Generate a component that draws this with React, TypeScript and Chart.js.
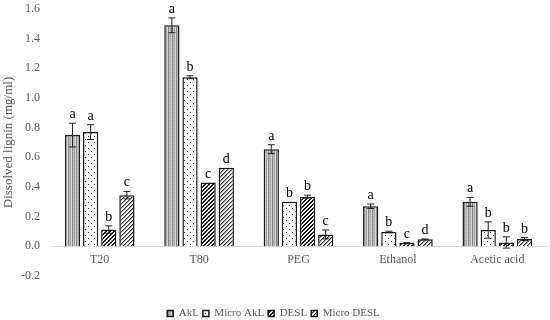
import React, { useEffect, useRef } from "react";
import { Chart, registerables } from "chart.js";

Chart.register(...registerables);

const categories = ["T20", "T80", "PEG", "Ethanol", "Acetic acid"];
const seriesNames = ["AkL", "Micro AkL", "DESL", "Micro DESL"];

const aklValues = [0.75, 1.49, 0.655, 0.27, 0.30];
const aklErrors = [0.08, 0.05, 0.03, 0.015, 0.03];
const aklLetters = ["a", "a", "a", "a", "a"];

const microAklValues = [0.77, 1.14, 0.30, 0.097, 0.11];
const microAklErrors = [0.05, 0.01, 0.0, 0.005, 0.055];
const microAklLetters = ["a", "b", "b", "b", "b"];

const deslValues = [0.113, 0.43, 0.335, 0.022, 0.026];
const deslErrors = [0.025, 0.0, 0.01, 0.003, 0.038];
const deslLetters = ["b", "c", "b", "c", "b"];

const microDeslValues = [0.345, 0.53, 0.08, 0.047, 0.049];
const microDeslErrors = [0.025, 0.0, 0.03, 0.003, 0.01];
const microDeslLetters = ["c", "d", "c", "d", "b"];

const yMin = -0.2;
const yMax = 1.6;
const yStep = 0.2;

const FONT = "'Liberation Serif', 'Times New Roman', serif";
const GRAY = "#595959";

function makePattern(kind: string): CanvasPattern | string {
  const c = document.createElement("canvas");
  const size = kind === "dots" ? 6 : 4;
  c.width = size;
  c.height = size;
  const ctx = c.getContext("2d")!;
  ctx.fillStyle = "#ffffff";
  ctx.fillRect(0, 0, size, size);
  for (let x = 0; x < size; x++) {
    for (let y = 0; y < size; y++) {
      let col: string | null = null;
      if (kind === "vstripes") {
        col = ["#858585", "#cfcfcf", "#a5a5a5", "#dadada"][x];
        if (x === 1 && y % 2 === 0) col = "#b0b0b0";
      } else if (kind === "dots") {
        if ((x === 1 && y === 1) || (x === 4 && y === 4)) col = "#333333";
      } else if (kind === "darkhatch") {
        const m = (x + y) % 4;
        if (m === 0 || m === 1) col = "#111111";
      } else if (kind === "lighthatch") {
        const m = (x + y) % 4;
        if (m === 0) col = "#333333";
        else if (m === 1) col = "#a0a0a0";
      }
      if (col) {
        ctx.fillStyle = col;
        ctx.fillRect(x, y, 1, 1);
      }
    }
  }
  return ctx.createPattern(c, "repeat") || "#999";
}

const errorsByDataset = [aklErrors, microAklErrors, deslErrors, microDeslErrors];
const lettersByDataset = [aklLetters, microAklLetters, deslLetters, microDeslLetters];

const errorBarPlugin = {
  id: "errorBars",
  afterDatasetsDraw(chart: any) {
    const ctx = chart.ctx;
    const yScale = chart.scales.y;
    ctx.save();
    chart.data.datasets.forEach((ds: any, di: number) => {
      const meta = chart.getDatasetMeta(di);
      const errs = errorsByDataset[di];
      const letters = lettersByDataset[di];
      meta.data.forEach((el: any, i: number) => {
        const v = ds.data[i];
        const e = errs[i];
        const x = el.x;
        const yTop = yScale.getPixelForValue(v + e);
        const yBot = yScale.getPixelForValue(v - e);
        if (e > 0) {
          ctx.strokeStyle = "#222222";
          ctx.lineWidth = 1;
          ctx.beginPath();
          ctx.moveTo(x, yTop);
          ctx.lineTo(x, yBot);
          ctx.moveTo(x - 3.5, yTop);
          ctx.lineTo(x + 3.5, yTop);
          ctx.moveTo(x - 3.5, yBot);
          ctx.lineTo(x + 3.5, yBot);
          ctx.stroke();
        }
        ctx.fillStyle = "#000000";
        ctx.font = `14px ${FONT}`;
        ctx.textAlign = "center";
        ctx.textBaseline = "alphabetic";
        ctx.fillText(letters[i], x, Math.min(yTop, el.y) - 5);
      });
    });
    ctx.restore();
  },
};

export default function App() {
  const ref = useRef<HTMLCanvasElement>(null);
  useEffect(() => {
    if (!ref.current) return;
    const fills = [
      makePattern("vstripes"),
      makePattern("dots"),
      makePattern("darkhatch"),
      makePattern("lighthatch"),
    ];
    const values = [aklValues, microAklValues, deslValues, microDeslValues];
    const chart = new Chart(ref.current, {
      type: "bar",
      data: {
        labels: categories,
        datasets: seriesNames.map((name, i) => ({
          label: name,
          data: values[i],
          backgroundColor: fills[i] as any,
          borderColor: "#1a1a1a",
          borderWidth: 1.5,
          categoryPercentage: 0.73,
          barPercentage: 0.84,
        })),
      },
      options: {
        animation: false,
        responsive: false,
        maintainAspectRatio: false,
        layout: { padding: { top: 9, left: 0, right: 3, bottom: -9 } },
        plugins: {
          tooltip: { enabled: false },
          legend: {
            position: "bottom",
            title: { display: true, text: " ", padding: { top: 6.3, bottom: 7.3 }, font: { size: 12, family: FONT } },
            labels: {
              boxWidth: 6,
              boxHeight: 6,
              padding: 4,
              color: GRAY,
              font: { size: 11, family: FONT },
            },
          },
        },
        scales: {
          x: {
            position: { y: 0 } as any,
            grid: { display: false, drawTicks: false },
            border: { display: true, color: "#d9d9d9", width: 1 },
            ticks: { color: GRAY, font: { size: 12, family: FONT }, padding: 6 },
          },
          y: {
            min: yMin,
            max: yMax,
            grid: { display: false, drawTicks: false },
            border: { display: false },
            ticks: {
              stepSize: yStep,
              color: GRAY,
              font: { size: 12, family: FONT },
              padding: 10,
              callback: (v: any) => Number(v).toFixed(1),
            },
            title: {
              display: true,
              text: "Dissolved lignin (mg/ml)",
              color: GRAY,
              font: { size: 13, family: FONT },
              padding: { top: 1, bottom: 0 },
            },
            afterFit: (s: any) => {
              s.width = 50;
              s.paddingTop = 0;
              s.paddingBottom = 0;
            },
          },
        },
      },
      plugins: [errorBarPlugin],
    });
    return () => chart.destroy();
  }, []);
  return (
    <div style={{ position: "fixed", left: 0, top: 0, width: 550, height: 320, background: "#fff" }}>
      <canvas ref={ref} width={550} height={320} style={{ width: 550, height: 320 }} />
    </div>
  );
}
